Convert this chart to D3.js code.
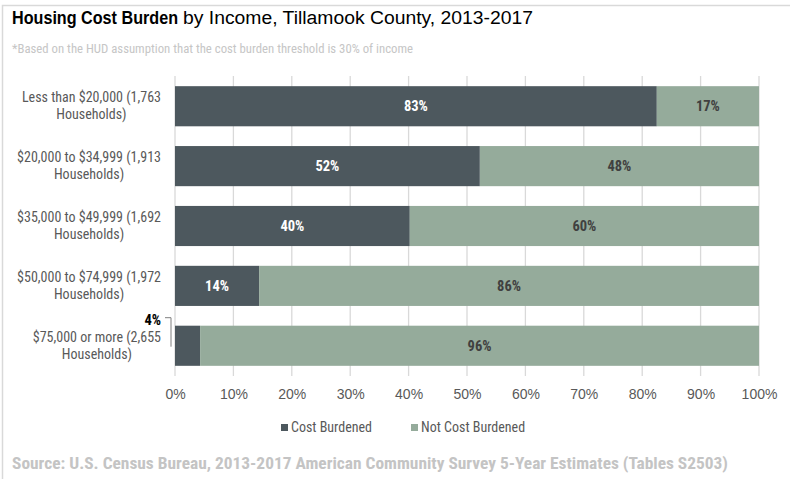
<!DOCTYPE html>
<html><head><meta charset="utf-8">
<script src="https://cdn.jsdelivr.net/npm/d3@7"></script>
<style>
body{margin:0;background:#fff;}
svg{display:block;font-family:"Liberation Sans Narrow","Arial Narrow","Roboto Condensed",Arial,sans-serif;}
</style></head><body>
<svg id="c" width="790" height="479"></svg>
<script>
const categories = [
  ["Less than $20,000 (1,763", "Households)"],
  ["$20,000 to $34,999 (1,913", "Households)"],
  ["$35,000 to $49,999 (1,692", "Households)"],
  ["$50,000 to $74,999 (1,972", "Households)"],
  ["$75,000 or more (2,655", "Households)"]
];
const costBurdened = [82.5, 52.2, 40.2, 14.4, 4.3];
const notCostBurdened = [17.5, 47.8, 59.8, 85.6, 95.7];
const labelsBurdened = ["83%", "52%", "40%", "14%", "4%"];
const labelsNot = ["17%", "48%", "60%", "86%", "96%"];
const tickValues = [0,10,20,30,40,50,60,70,80,90,100];
const seriesNames = ["Cost Burdened", "Not Cost Burdened"];
const colors = ["#4d585e", "#95ab9b"];

const svg = d3.select("#c");
// frame
svg.append("rect").attr("x",2.5).attr("y",5.5).attr("width",800).attr("height",600)
  .attr("fill","none").attr("stroke","#d9d9d9").attr("stroke-width",1.5);

// title
svg.append("text").attr("x",12).attr("y",24).attr("font-family","Arial, 'Liberation Sans', sans-serif")
  .attr("font-size",18).attr("font-weight","bold").attr("fill","#000")
  .attr("textLength",166).attr("lengthAdjust","spacingAndGlyphs").text("Housing Cost Burden");
svg.append("text").attr("x",183).attr("y",24).attr("font-family","Arial, 'Liberation Sans', sans-serif")
  .attr("font-size",18).attr("fill","#000")
  .attr("textLength",350).attr("lengthAdjust","spacingAndGlyphs").text("by Income, Tillamook  County, 2013-2017");
svg.append("text").attr("x",12).attr("y",53).attr("font-size",12.5).attr("fill","#c6c6c6")
  .attr("textLength",401).attr("lengthAdjust","spacingAndGlyphs")
  .text("*Based on the HUD assumption that the cost burden threshold is 30% of income");

const x = d3.scaleLinear().domain([0,100]).range([175,759]);
const y = d3.scaleBand().domain(d3.range(categories.length)).range([76,376]).paddingInner(0.33).paddingOuter(0.17);

// gridlines
svg.append("g").selectAll("line").data(tickValues).join("line")
  .attr("x1",d=>x(d)).attr("x2",d=>x(d)).attr("y1",76).attr("y2",376)
  .attr("stroke","#d9d9d9").attr("stroke-width",1.3);

// bars
const g = svg.append("g");
g.selectAll("rect.cb").data(costBurdened).join("rect").attr("class","cb")
  .attr("x",x(0)).attr("y",(d,i)=>y(i)).attr("width",d=>x(d)-x(0)).attr("height",y.bandwidth())
  .attr("fill",colors[0]);
g.selectAll("rect.nb").data(notCostBurdened).join("rect").attr("class","nb")
  .attr("x",(d,i)=>x(costBurdened[i])).attr("y",(d,i)=>y(i)).attr("width",(d,i)=>x(costBurdened[i]+d)-x(costBurdened[i])).attr("height",y.bandwidth())
  .attr("fill",colors[1]);

// data labels
labelsBurdened.forEach((l,i)=>{
  if(i<4){
    svg.append("text").attr("x",(x(0)+x(costBurdened[i]))/2).attr("y",y(i)+y.bandwidth()/2+5)
      .attr("text-anchor","middle").attr("font-size",14.5).attr("font-weight","bold").attr("fill","#fff").text(l);
  } else {
    svg.append("text").attr("x",161).attr("y",y(i)-1).attr("text-anchor","end")
      .attr("font-size",14.5).attr("font-weight","bold").attr("fill","#000").text(l);
    svg.append("path").attr("d",`M165,${y(i)-8}H171V${y(i)+21}`).attr("fill","none").attr("stroke","#7f7f7f").attr("stroke-width",1);
  }
});
labelsNot.forEach((l,i)=>{
  const s = costBurdened[i];
  svg.append("text").attr("x",(x(s)+x(s+notCostBurdened[i]))/2).attr("y",y(i)+y.bandwidth()/2+5)
    .attr("text-anchor","middle").attr("font-size",14.5).attr("font-weight","bold").attr("fill","#404040").text(l);
});

// category labels (centered block, right edge at 161)
categories.forEach((c,i)=>{
  const tx = svg.append("text").attr("text-anchor","middle").attr("font-size",14).attr("fill","#595959");
  const t1 = tx.append("tspan").attr("y",y(i)+y.bandwidth()/2-4).text(c[0]);
  const w = t1.node().getComputedTextLength();
  const cx = 161 - w/2;
  t1.attr("x",cx);
  tx.append("tspan").attr("x",cx).attr("y",y(i)+y.bandwidth()/2+13).text(c[1]);
});

// x axis ticks
const ax = svg.append("g").attr("transform","translate(0,376)")
  .call(d3.axisBottom(x).tickValues(tickValues).tickFormat(d=>d+"%").tickSize(0).tickPadding(13));
ax.select(".domain").remove();
ax.selectAll("text").attr("font-size",14).attr("fill","#595959").attr("font-family",null);

// legend
const lg = svg.append("g");
[[281,0],[411,1]].forEach(([lx,i])=>{
  lg.append("rect").attr("x",lx).attr("y",424).attr("width",7).attr("height",7).attr("fill",colors[i]);
  lg.append("text").attr("x",lx+10).attr("y",432).attr("font-size",14).attr("fill","#595959").text(seriesNames[i]);
});

svg.append("text").attr("x",12).attr("y",469).attr("font-size",17).attr("font-weight","bold").attr("fill","#c4c4c4")
  .attr("textLength",716).attr("lengthAdjust","spacingAndGlyphs")
  .text("Source: U.S. Census Bureau, 2013-2017 American Community Survey 5-Year Estimates (Tables S2503)");
</script></body></html>
